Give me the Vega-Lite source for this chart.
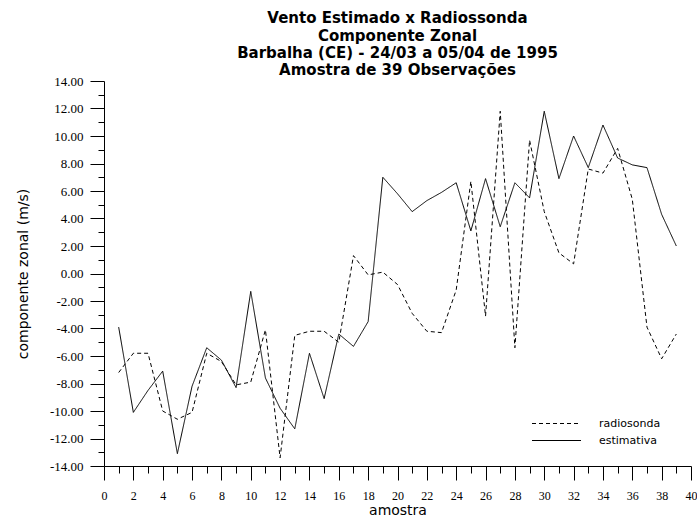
{
  "$schema": "https://vega.github.io/schema/vega-lite/v6.json",
  "width": 587,
  "height": 385,
  "autosize": {"type": "none"},
  "padding": {"left": 104, "top": 81, "right": 6, "bottom": 55},
  "background": "white",
  "title": {
    "text": ["Vento Estimado x Radiossonda", "Componente Zonal", "Barbalha (CE) - 24/03 a 05/04 de 1995", "Amostra de 39 Observações"],
    "anchor": "middle",
    "font": "DejaVu Sans",
    "fontSize": 15,
    "fontWeight": "bold",
    "lineHeight": 17.2,
    "color": "black",
    "offset": -3
  },
  "config": {
    "view": {"stroke": null},
    "axis": {
      "domainColor": "black",
      "domainWidth": 1,
      "tickColor": "black",
      "tickWidth": 1,
      "grid": false,
      "labelColor": "black",
      "titleColor": "black",
      "labelFont": "Liberation Sans Narrow",
      "labelFontSize": 13,
      "titleFont": "DejaVu Sans",
      "titleFontSize": 14,
      "titleFontWeight": "normal",
      "labelOverlap": false,
      "labelFlush": false,
      "labelBound": false
    }
  },
  "data": {
    "values": [
      {"amostra": 1, "valor": -7.2, "serie": "radiosonda"},
      {"amostra": 2, "valor": -5.8, "serie": "radiosonda"},
      {"amostra": 3, "valor": -5.8, "serie": "radiosonda"},
      {"amostra": 4, "valor": -10.0, "serie": "radiosonda"},
      {"amostra": 5, "valor": -10.6, "serie": "radiosonda"},
      {"amostra": 6, "valor": -10.1, "serie": "radiosonda"},
      {"amostra": 7, "valor": -5.8, "serie": "radiosonda"},
      {"amostra": 8, "valor": -6.4, "serie": "radiosonda"},
      {"amostra": 9, "valor": -8.1, "serie": "radiosonda"},
      {"amostra": 10, "valor": -7.9, "serie": "radiosonda"},
      {"amostra": 11, "valor": -4.1, "serie": "radiosonda"},
      {"amostra": 12, "valor": -13.4, "serie": "radiosonda"},
      {"amostra": 13, "valor": -4.5, "serie": "radiosonda"},
      {"amostra": 14, "valor": -4.2, "serie": "radiosonda"},
      {"amostra": 15, "valor": -4.2, "serie": "radiosonda"},
      {"amostra": 16, "valor": -5.0, "serie": "radiosonda"},
      {"amostra": 17, "valor": 1.3, "serie": "radiosonda"},
      {"amostra": 18, "valor": -0.1, "serie": "radiosonda"},
      {"amostra": 19, "valor": 0.1, "serie": "radiosonda"},
      {"amostra": 20, "valor": -0.8, "serie": "radiosonda"},
      {"amostra": 21, "valor": -2.9, "serie": "radiosonda"},
      {"amostra": 22, "valor": -4.2, "serie": "radiosonda"},
      {"amostra": 23, "valor": -4.3, "serie": "radiosonda"},
      {"amostra": 24, "valor": -1.2, "serie": "radiosonda"},
      {"amostra": 25, "valor": 6.7, "serie": "radiosonda"},
      {"amostra": 26, "valor": -3.1, "serie": "radiosonda"},
      {"amostra": 27, "valor": 11.8, "serie": "radiosonda"},
      {"amostra": 28, "valor": -5.4, "serie": "radiosonda"},
      {"amostra": 29, "valor": 9.7, "serie": "radiosonda"},
      {"amostra": 30, "valor": 4.5, "serie": "radiosonda"},
      {"amostra": 31, "valor": 1.5, "serie": "radiosonda"},
      {"amostra": 32, "valor": 0.7, "serie": "radiosonda"},
      {"amostra": 33, "valor": 7.6, "serie": "radiosonda"},
      {"amostra": 34, "valor": 7.3, "serie": "radiosonda"},
      {"amostra": 35, "valor": 9.1, "serie": "radiosonda"},
      {"amostra": 36, "valor": 5.4, "serie": "radiosonda"},
      {"amostra": 37, "valor": -3.9, "serie": "radiosonda"},
      {"amostra": 38, "valor": -6.2, "serie": "radiosonda"},
      {"amostra": 39, "valor": -4.4, "serie": "radiosonda"},
      {"amostra": 1, "valor": -3.9, "serie": "estimativa"},
      {"amostra": 2, "valor": -10.1, "serie": "estimativa"},
      {"amostra": 3, "valor": -8.5, "serie": "estimativa"},
      {"amostra": 4, "valor": -7.1, "serie": "estimativa"},
      {"amostra": 5, "valor": -13.1, "serie": "estimativa"},
      {"amostra": 6, "valor": -8.2, "serie": "estimativa"},
      {"amostra": 7, "valor": -5.4, "serie": "estimativa"},
      {"amostra": 8, "valor": -6.3, "serie": "estimativa"},
      {"amostra": 9, "valor": -8.3, "serie": "estimativa"},
      {"amostra": 10, "valor": -1.3, "serie": "estimativa"},
      {"amostra": 11, "valor": -7.6, "serie": "estimativa"},
      {"amostra": 12, "valor": -9.8, "serie": "estimativa"},
      {"amostra": 13, "valor": -11.3, "serie": "estimativa"},
      {"amostra": 14, "valor": -5.8, "serie": "estimativa"},
      {"amostra": 15, "valor": -9.1, "serie": "estimativa"},
      {"amostra": 16, "valor": -4.4, "serie": "estimativa"},
      {"amostra": 17, "valor": -5.3, "serie": "estimativa"},
      {"amostra": 18, "valor": -3.5, "serie": "estimativa"},
      {"amostra": 19, "valor": 7.0, "serie": "estimativa"},
      {"amostra": 20, "valor": 5.8, "serie": "estimativa"},
      {"amostra": 21, "valor": 4.5, "serie": "estimativa"},
      {"amostra": 22, "valor": 5.3, "serie": "estimativa"},
      {"amostra": 23, "valor": 5.9, "serie": "estimativa"},
      {"amostra": 24, "valor": 6.6, "serie": "estimativa"},
      {"amostra": 25, "valor": 3.1, "serie": "estimativa"},
      {"amostra": 26, "valor": 6.9, "serie": "estimativa"},
      {"amostra": 27, "valor": 3.4, "serie": "estimativa"},
      {"amostra": 28, "valor": 6.6, "serie": "estimativa"},
      {"amostra": 29, "valor": 5.5, "serie": "estimativa"},
      {"amostra": 30, "valor": 11.8, "serie": "estimativa"},
      {"amostra": 31, "valor": 6.9, "serie": "estimativa"},
      {"amostra": 32, "valor": 10.0, "serie": "estimativa"},
      {"amostra": 33, "valor": 7.7, "serie": "estimativa"},
      {"amostra": 34, "valor": 10.8, "serie": "estimativa"},
      {"amostra": 35, "valor": 8.4, "serie": "estimativa"},
      {"amostra": 36, "valor": 7.9, "serie": "estimativa"},
      {"amostra": 37, "valor": 7.7, "serie": "estimativa"},
      {"amostra": 38, "valor": 4.3, "serie": "estimativa"},
      {"amostra": 39, "valor": 2.0, "serie": "estimativa"}
    ]
  },
  "mark": {"type": "line", "color": "black", "strokeWidth": 1},
  "encoding": {
    "x": {
      "field": "amostra",
      "type": "quantitative",
      "scale": {"domain": [0, 40], "nice": false, "zero": false},
      "axis": {
        "title": "amostra",
        "values": [0,1,2,3,4,5,6,7,8,9,10,11,12,13,14,15,16,17,18,19,20,21,22,23,24,25,26,27,28,29,30,31,32,33,34,35,36,37,38,39,40],
        "tickSize": {"condition": {"test": "datum.value % 2 === 0", "value": 14}, "value": 7},
        "labelExpr": "datum.value % 2 === 0 ? format(datum.value, 'd') : ''",
        "labelFontSize": 12,
        "labelPadding": 10,
        "titlePadding": 2
      }
    },
    "y": {
      "field": "valor",
      "type": "quantitative",
      "scale": {"domain": [-14, 14], "nice": false, "zero": false},
      "axis": {
        "title": "componente zonal (m/s)",
        "values": [-14,-13,-12,-11,-10,-9,-8,-7,-6,-5,-4,-3,-2,-1,0,1,2,3,4,5,6,7,8,9,10,11,12,13,14],
        "tickSize": {"condition": {"test": "datum.value % 2 === 0", "value": 14}, "value": 6},
        "labelExpr": "datum.value % 2 === 0 ? replace(format(datum.value, '.2f'), '\u2212', '-') : ''",
        "labelPadding": 7,
        "titlePadding": 19
      }
    },
    "strokeDash": {
      "field": "serie",
      "type": "nominal",
      "scale": {"domain": ["radiosonda", "estimativa"], "range": [[4, 3], [1, 0]]},
      "legend": {
        "title": null,
        "orient": "none",
        "legendX": 447,
        "legendY": 337,
        "symbolType": "M-4.9,0H4.9",
        "symbolSize": 100,
        "symbolStrokeColor": "black",
        "symbolStrokeWidth": 1,
        "labelFont": "DejaVu Sans",
        "labelFontSize": 11,
        "labelColor": "black",
        "labelOffset": 37,
        "rowPadding": 5,
        "padding": 0
      }
    }
  }
}
